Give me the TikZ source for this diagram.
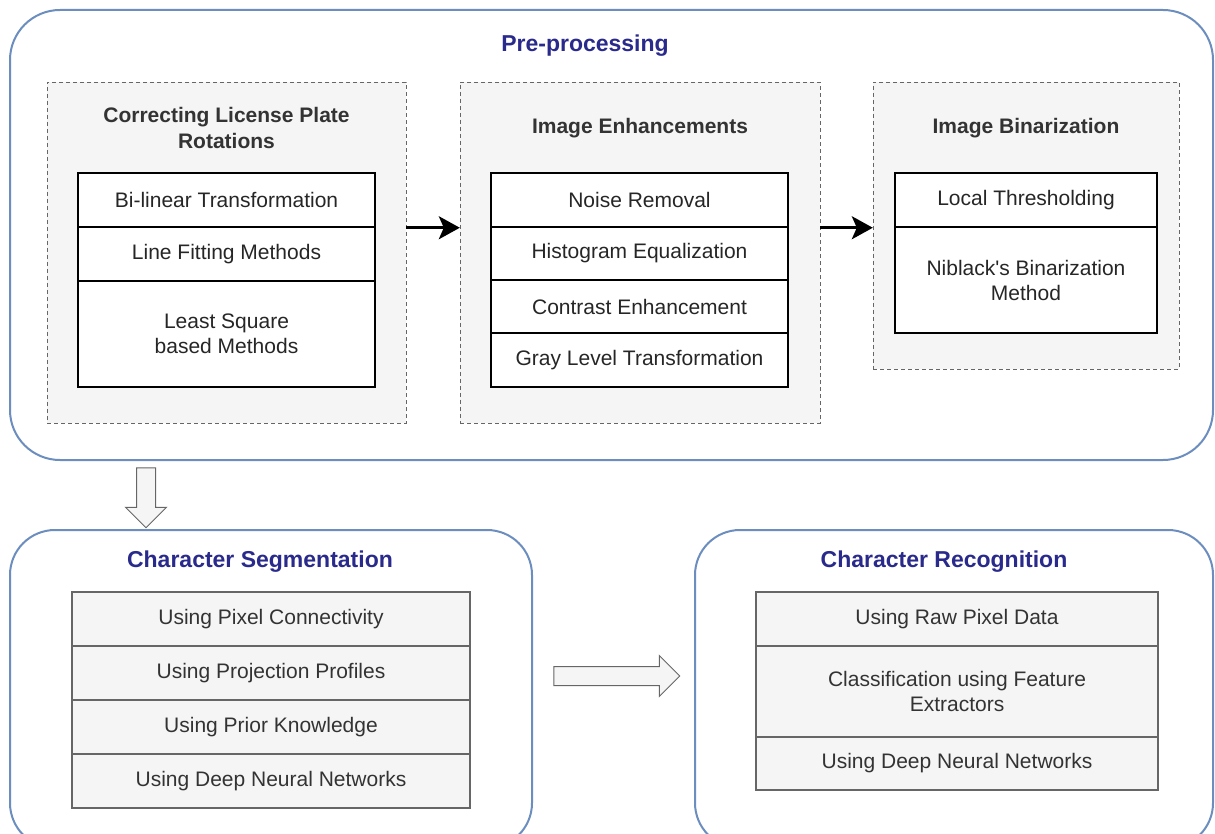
\documentclass[tikz,border=0pt]{standalone}
\usepackage{fontspec}
\setmainfont{Liberation Sans}
\usetikzlibrary{arrows.meta,shapes.arrows}
\definecolor{stageblue}{HTML}{6C8EBF}
\definecolor{titleblue}{HTML}{2A2A8C}
\definecolor{textgray}{HTML}{333333}
\definecolor{panelgray}{HTML}{F5F5F5}
\definecolor{linegray}{HTML}{666666}

\begin{document}
\begin{tikzpicture}[x=1pt, y=-1pt,
  stage/.style={draw=stageblue, line width=2pt, rounded corners=50pt, fill=white, inner sep=0pt},
  stagetitle/.style={text=titleblue, font=\fontsize{23}{27}\selectfont\bfseries, inner sep=0pt},
  panel/.style={draw=linegray, dashed, dash pattern=on 4pt off 3pt, fill=panelgray, inner sep=0pt},
  paneltitle/.style={text=textgray, font=\fontsize{21}{26}\selectfont\bfseries, align=center, inner sep=0pt},
  cell/.style={draw=black, line width=1.5pt, fill=white, text=black!85, font=\fontsize{21}{25}\selectfont, align=center, inner sep=0pt},
  graycell/.style={draw=linegray, line width=1.2pt, fill=panelgray, text=textgray, font=\fontsize{21}{25}\selectfont, align=center, inner sep=0pt},
  hollow/.style={single arrow, draw=linegray, fill=panelgray, line width=1pt, inner sep=9pt, single arrow head extend=11pt, single arrow tip angle=90},
  flow/.style={-{Stealth[length=21pt, width=23pt, inset=5pt]}, line width=2.5pt}]
\clip (0,0) rectangle (1215,834);
% stages
\node[stage, minimum width=1203pt, minimum height=450pt] (pre) at (611.5, 235) {};
\node[stagetitle] (pretitle) at (585, 46) {Pre-processing};
\node[stage, rounded corners=45pt, minimum width=522pt, minimum height=318pt] (seg) at (271, 689) {};
\node[stagetitle] (segtitle) at (260, 562) {Character Segmentation};
\node[stage, rounded corners=45pt, minimum width=518pt, minimum height=318pt] (rec) at (954, 689) {};
\node[stagetitle] (rectitle) at (944, 562) {Character Recognition};
% rotation panel
\node[panel, minimum width=359pt, minimum height=341pt] (rot) at (226.5, 252.5) {};
\node[paneltitle] (rottitle) at (226.5, 128) {Correcting License Plate\\Rotations};
\node[cell, minimum width=297pt, minimum height=54pt] (rotA) at (226.5, 200) {Bi-linear Transformation};
\node[cell, minimum width=297pt, minimum height=54pt] (rotB) at (226.5, 254) {Line Fitting Methods};
\node[cell, minimum width=297pt, minimum height=106pt] (rotC) at (226.5, 334) {Least Square\\based Methods};
% enhancement panel
\node[panel, minimum width=360pt, minimum height=341pt] (enh) at (640, 252.5) {};
\node[paneltitle] (enhtitle) at (640, 128) {Image Enhancements};
\node[cell, minimum width=297pt, minimum height=54pt] (enhA) at (639.5, 200) {Noise Removal};
\node[cell, minimum width=297pt, minimum height=53pt] (enhB) at (639.5, 253.5) {Histogram Equalization};
\node[cell, minimum width=297pt, minimum height=53pt] (enhC) at (639.5, 306.5) {Contrast Enhancement};
\node[cell, minimum width=297pt, minimum height=54pt] (enhD) at (639.5, 360) {Gray Level Transformation};
% binarization panel
\node[panel, minimum width=306pt, minimum height=287pt] (bin) at (1026, 225.5) {};
\node[paneltitle] (bintitle) at (1026, 128) {Image Binarization};
\node[cell, minimum width=262pt, minimum height=54pt] (binA) at (1026, 200) {Local Thresholding};
\node[cell, minimum width=262pt, minimum height=106pt] (binB) at (1026, 280) {Niblack\textquotesingle s Binarization\\Method};
% segmentation methods
\node[graycell, minimum width=398pt, minimum height=54pt] (segA) at (271, 619) {Using Pixel Connectivity};
\node[graycell, minimum width=398pt, minimum height=54pt] (segB) at (271, 673) {Using Projection Profiles};
\node[graycell, minimum width=398pt, minimum height=54pt] (segC) at (271, 727) {Using Prior Knowledge};
\node[graycell, minimum width=398pt, minimum height=54pt] (segD) at (271, 781) {Using Deep Neural Networks};
% recognition methods
\node[graycell, minimum width=402pt, minimum height=54pt] (recA) at (957, 619) {Using Raw Pixel Data};
\node[graycell, minimum width=402pt, minimum height=91pt] (recB) at (957, 691.5) {Classification using Feature\\Extractors};
\node[graycell, minimum width=402pt, minimum height=53pt] (recC) at (957, 763.5) {Using Deep Neural Networks};
% connectors
\draw[flow] (rot.east |- rotA.south) -- (enh.west |- rotA.south);
\draw[flow] (enh.east |- enhA.south) -- (bin.west |- enhA.south);
\node[hollow, shape border rotate=270, minimum height=60pt, minimum width=40pt] (down) at (146, 493) {};
\node[hollow, minimum height=126pt, minimum width=40pt] (across) at (612, 676) {};
\end{tikzpicture}
\end{document}
